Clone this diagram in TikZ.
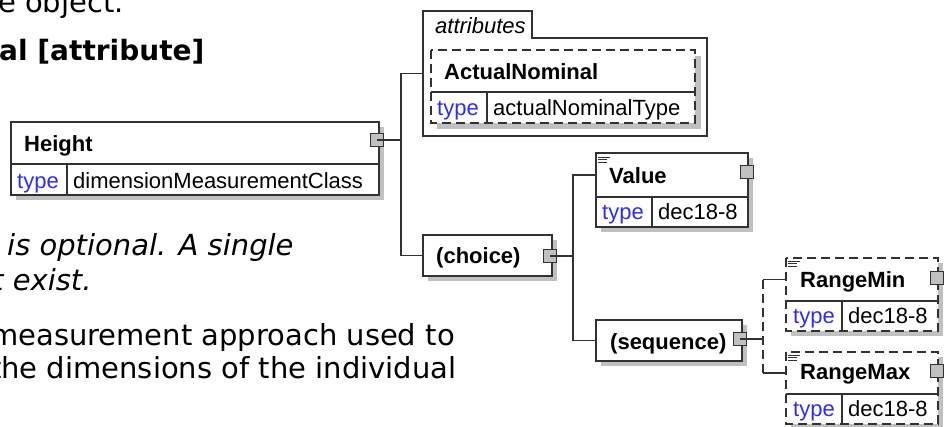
\documentclass[tikz,border=0pt]{standalone}
\usepackage{fontspec}
\setmainfont{Liberation Sans}
\newfontfamily\vfam{DejaVu Sans}
\usetikzlibrary{backgrounds}
\definecolor{typeblue}{RGB}{45,45,245}
\definecolor{lineclr}{RGB}{50,50,50}
\definecolor{shadowclr}{RGB}{192,192,192}
\definecolor{sqclr}{RGB}{192,192,192}
\newcommand\diafnt{\fontsize{22}{26}\selectfont}
\newcommand\bodyfnt{\vfam\fontsize{29}{34}\selectfont}
\newcommand\headfnt{\vfam\bfseries\fontsize{28}{34}\selectfont}
\begin{document}
\begin{tikzpicture}[x=1pt,y=-1pt]
\tikzset{
  bd/.style={draw=lineclr, line width=1.3pt},
  dsh/.style={dash pattern=on 9pt off 5pt},
  shd/.style={fill=shadowclr, draw=none},
  cell/.style={rectangle, inner sep=0, outer sep=0, anchor=north west, fill=white},
  dcell/.style={cell, draw=lineclr, line width=1.3pt},
  sq/.style={rectangle, inner sep=0, outer sep=0, minimum size=13pt, fill=sqclr, draw=lineclr, line width=1.1pt},
  lbl/.style={anchor=base west, inner sep=0, font=\diafnt},
  ttl/.style={lbl, font=\diafnt\bfseries},
  typ/.style={lbl, text=typeblue},
  body/.style={anchor=base west, inner sep=0, font=\bodyfnt},
  ico/.style={draw=lineclr, line width=0.8pt},
}
\useasboundingbox (0,0) rectangle (944,426);
\clip (0,0) rectangle (944,426);

% ---- left body text ----
\node[body] (t1) at (-2,12) {e object.};
\node[body, font=\headfnt] (t2) at (-1,60) {al [attribute]};
\node[body, font=\bodyfnt\itshape] (t3) at (7,255) {is optional. A single};
\node[body, font=\bodyfnt\itshape] (t4) at (-8,290) {t exist.};
\node[body] (t5) at (-10,345) {measurement approach used to};
\node[body] (t6) at (-10,378) {the dimensions of the individual};

% ---- Height ----
\node[dcell, minimum width=368pt, minimum height=42pt] (hT) at (11,122) {};
\node[dcell, minimum width=368pt, minimum height=31pt] (hR) at (11,164) {};
\draw[bd] (67,164) -- (67,195);
\node[ttl] (hN) at (24,151) {Height};
\node[typ] (hTy) at (17,188) {type};
\node[lbl] (hTv) at (73,188) {dimensionMeasurementClass};

% ---- attributes group ----
\node[cell, fill=none, minimum width=284pt, minimum height=125pt] (attr) at (423,11) {};
\draw[bd] (attr.south west) -- (attr.north west) -- (532,11) -- (532,38) -- (707,38) -- (attr.south east) -- cycle;
\node[lbl, font=\diafnt\itshape] (attrL) at (435,33) {attributes};

% ActualNominal (optional, dashed)
\node[cell, minimum width=264pt, minimum height=42pt] (aT) at (431,50) {};
\node[cell, minimum width=264pt, minimum height=31pt] (aR) at (431,92) {};
\draw[bd, dsh] (aT.north west) rectangle (aR.south east);
\draw[bd] (aT.south west) -- (aT.south east);
\draw[bd] (487,92) -- (487,123);
\node[ttl] (aN) at (444,79) {ActualNominal};
\node[typ] (aTy) at (437,115) {type};
\node[lbl] (aTv) at (493,115) {actualNominalType};

% ---- choice ----
\node[dcell, minimum width=129pt, minimum height=41pt] (cB) at (423,235) {};
\node[ttl] (cN) at (436,263) {(choice)};

% ---- Value ----
\node[dcell, minimum width=152pt, minimum height=44pt] (vT) at (596,153) {};
\node[dcell, minimum width=152pt, minimum height=30pt] (vR) at (596,197) {};
\draw[bd] (652,197) -- (652,227);
\draw[ico] (598,157) -- (610,157) (598,159.5) -- (607,159.5) (598,162) -- (607,162);
\node[ttl] (vN) at (609,183) {Value};
\node[typ] (vTy) at (602,219) {type};
\node[lbl] (vTv) at (658,219) {dec18-8};

% ---- sequence ----
\node[dcell, minimum width=146pt, minimum height=41pt] (sB) at (596,320) {};
\node[ttl] (sN) at (610,349) {(sequence)};

% ---- RangeMin (optional) ----
\node[cell, minimum width=152pt, minimum height=43pt] (mT) at (786,258) {};
\node[cell, minimum width=152pt, minimum height=30pt] (mR) at (786,301) {};
\draw[bd, dsh] (mT.north west) rectangle (mR.south east);
\draw[bd] (mT.south west) -- (mT.south east);
\draw[bd] (842,301) -- (842,331);
\draw[ico] (788,261) -- (800,261) (788,263.5) -- (797,263.5) (788,266) -- (797,266);
\node[ttl] (mN) at (800,287) {RangeMin};
\node[typ] (mTy) at (793,323) {type};
\node[lbl] (mTv) at (848,323) {dec18-8};

% ---- RangeMax (optional) ----
\node[cell, minimum width=152pt, minimum height=42pt] (xT) at (786,352) {};
\node[cell, minimum width=152pt, minimum height=30pt] (xR) at (786,394) {};
\draw[bd, dsh] (xT.north west) rectangle (xR.south east);
\draw[bd] (xT.south west) -- (xT.south east);
\draw[bd] (842,394) -- (842,424);
\draw[ico] (788,355) -- (800,355) (788,357.5) -- (797,357.5) (788,360) -- (797,360);
\node[ttl] (xN) at (800,379) {RangeMax};
\node[typ] (xTy) at (793,416) {type};
\node[lbl] (xTv) at (848,416) {dec18-8};

% ---- shadows ----
\begin{scope}[on background layer]
\fill[shd] ([shift={(5,5)}]hT.north west) rectangle ([shift={(5,5)}]hR.south east);
\fill[shd] ([shift={(6,6)}]aT.north west) rectangle ([shift={(6,6)}]aR.south east);
\fill[shd] ([shift={(5,5)}]cB.north west) rectangle ([shift={(5,5)}]cB.south east);
\fill[shd] ([shift={(5,5)}]vT.north west) rectangle ([shift={(5,5)}]vR.south east);
\fill[shd] ([shift={(5,5)}]sB.north west) rectangle ([shift={(5,5)}]sB.south east);
\fill[shd] ([shift={(5,5)}]mT.north west) rectangle ([shift={(5,5)}]mR.south east);
\fill[shd] ([shift={(5,5)}]xT.north west) rectangle ([shift={(5,5)}]xR.south east);
\end{scope}

% ---- expand squares ----
\node[sq] (hsq) at (377,140) {};
\node[sq] (csq) at (550,256) {};
\node[sq] (vsq) at (747,172) {};
\node[sq] (ssq) at (740,339) {};
\node[sq] (msq) at (937,278) {};
\node[sq] (xsq) at (937,371) {};

% ---- connectors ----
\coordinate (f1) at (401,140);
\coordinate (f2) at (573,256);
\coordinate (f3) at (763,339);
\coordinate (f3a) at (f3 |- mT.west);
\coordinate (f3b) at (f3 |- xT.west);
\draw[bd] (hsq.center) -- (f1);
\draw[bd] (f1) |- (attr.west);
\draw[bd] (f1) |- (cB.west);
\draw[bd] (csq.center) -- (f2);
\draw[bd] (f2) |- (vT.west);
\draw[bd] (f2) |- (sB.west);
\draw[bd] (ssq.center) -- (f3);
\draw[bd, dsh] (f3a) -- (f3b);
\draw[bd] (f3a) -- (mT.west);
\draw[bd] (f3b) -- (xT.west);
\end{tikzpicture}
\end{document}
